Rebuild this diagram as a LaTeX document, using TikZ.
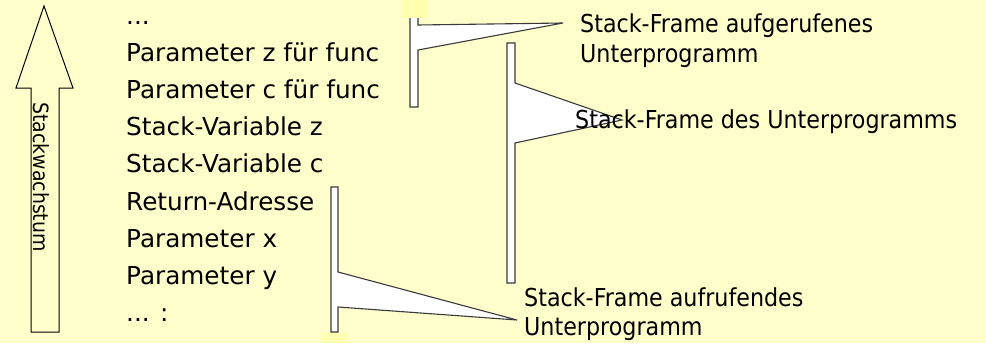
\documentclass[tikz,border=0pt]{standalone}
\usepackage{fontspec}
\setmainfont{DejaVu Sans}
\newfontfamily\condfont{DejaVu Sans Condensed}
\definecolor{paper}{HTML}{FFFFCC}
\definecolor{handle}{HTML}{FFFFB0}
\definecolor{framegray}{HTML}{3A3A3A}

\begin{document}
\begin{tikzpicture}[x=1pt,y=-1pt,
  stacktext/.style={anchor=base west,inner sep=0pt,font=\fontsize{24.7}{30}\selectfont},
  framelabel/.style={anchor=base west,inner sep=0pt,font=\condfont\fontsize{24.7}{30}\selectfont},
  framebracket/.style={draw=framegray,fill=white,line width=1.1pt,line join=miter},
  growarrow/.style={draw=black,line width=1pt,line join=miter},
  handlepatch/.style={fill=handle}]
% page
\fill[paper] (0,0) rectangle (986,343);
\useasboundingbox (0,0) rectangle (986,343);

% growth direction arrow
\draw[growarrow] (44,6) -- (73,88) -- (59,88) -- (59,332) -- (31,332)
  -- (31,88) -- (16,88) -- cycle;
\node[inner sep=0pt,rotate=-90,font=\condfont\fontsize{21}{25}\selectfont]
  (growlabel) at (41,177) {Stackwachstum};

% stack entries, one every 37.2pt
\node[stacktext] (entry1) at (126,24.0)  {...};
\node[stacktext] (entry2) at (126,61.2)  {Parameter z für func};
\node[stacktext] (entry3) at (126,98.4)  {Parameter c für func};
\node[stacktext] (entry4) at (126,135.6) {Stack-Variable z};
\node[stacktext] (entry5) at (126,172.8) {Stack-Variable c};
\node[stacktext] (entry6) at (126,210.0) {Return-Adresse};
\node[stacktext] (entry7) at (126,247.2) {Parameter x};
\node[stacktext] (entry8) at (126,284.4) {Parameter y};
\node[stacktext] (entry9) at (126,321.6) {... :};

% frame brackets
\draw[framebracket] (410,10) -- (418,10) -- (418,25) -- (563,23) -- (418,50)
  -- (418,107) -- (410,107) -- cycle;
\draw[framebracket] (507,43) -- (515,43) -- (515,83) -- (622,120) -- (515,143)
  -- (515,283) -- (507,283) -- cycle;
\draw[framebracket] (331,187) -- (338,187) -- (338,272) -- (517,320) -- (338,307)
  -- (338,332) -- (331,332) -- cycle;

% selection handles
\fill[handlepatch] (402,0) rectangle (427,18);
\fill[handlepatch] (322,333) rectangle (347,343);

% frame labels
\node[framelabel] (calleeA) at (580,32) {Stack-Frame aufgerufenes};
\node[framelabel] (calleeB) at (580,62) {Unterprogramm};
\node[framelabel] (own) at (575,128) {Stack-Frame des Unterprogramms};
\node[framelabel] (callerA) at (524,306) {Stack-Frame aufrufendes};
\node[framelabel] (callerB) at (524,335) {Unterprogramm};
\end{tikzpicture}
\end{document}
